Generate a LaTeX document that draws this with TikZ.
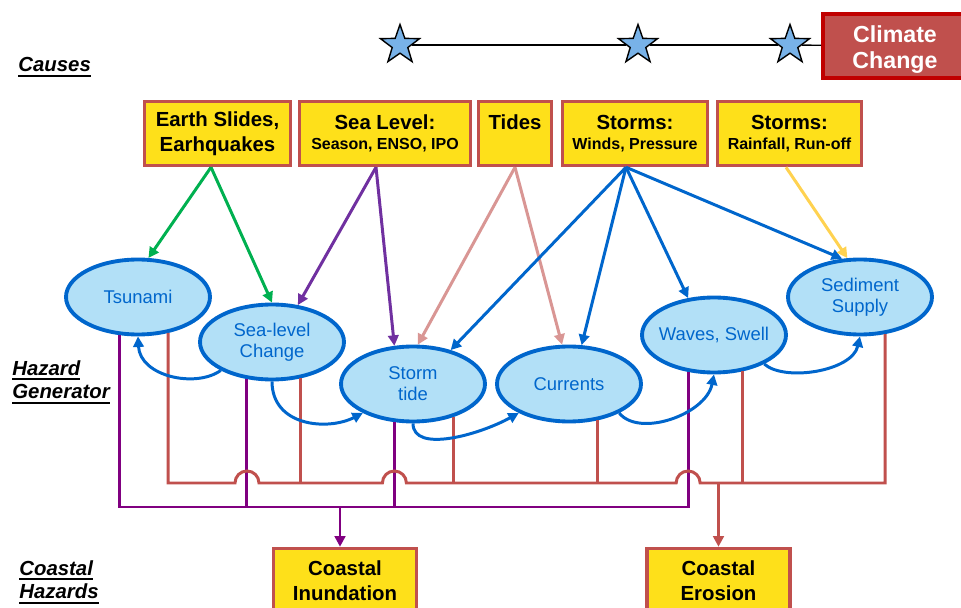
\documentclass[tikz,border=0pt]{standalone}
\usepackage{fontspec}
\setmainfont{Liberation Sans}
\usetikzlibrary{arrows.meta,shapes.geometric}

\definecolor{boxfill}{RGB}{254,224,26}
\definecolor{boxline}{RGB}{192,80,77}
\definecolor{hazfill}{RGB}{178,224,247}
\definecolor{hazline}{RGB}{0,102,204}
\definecolor{ccfill}{RGB}{192,80,77}
\definecolor{ccline}{RGB}{192,0,0}
\definecolor{starfill}{RGB}{120,178,232}
\definecolor{quakegreen}{RGB}{0,176,80}
\definecolor{levelpurple}{RGB}{112,48,160}
\definecolor{tidepink}{RGB}{217,150,148}
\definecolor{rungold}{RGB}{255,210,80}
\definecolor{inundpurple}{RGB}{128,0,128}
\definecolor{erored}{RGB}{192,80,77}

\newcommand{\subline}[1]{{\fontsize{9.1}{11}\selectfont #1}}
\newcommand{\ulabel}[1]{\setbox0\hbox{#1}\rlap{\rule[-3pt]{\wd0}{1.1pt}}\box0}

\begin{document}
\begin{tikzpicture}[x=0.02cm, y=-0.02cm, >={Triangle[length=6pt,width=6pt]},
    cause/.style={draw=boxline, fill=boxfill, line width=2pt, inner sep=0pt,
        minimum height=1.28cm, align=center, font=\bfseries\fontsize{11.6}{14}\selectfont},
    hazard/.style={ellipse, draw=hazline, fill=hazfill, line width=2.2pt, inner sep=0pt,
        minimum width=2.88cm, minimum height=1.5cm},
    haztext/.style={text=hazline, align=center, font=\fontsize{10.5}{12}\selectfont},
    cctext/.style={text=white, align=center, yshift=-2pt, font=\bfseries\fontsize{13.2}{15.3}\selectfont},
    sidelabel/.style={anchor=north west, inner sep=0pt, align=left,
        font=\bfseries\itshape\fontsize{11.6}{13.5}\selectfont},
    starmark/.style={star, star points=5, star point ratio=2.5, draw=black, fill=starfill,
        line width=0.8pt, minimum size=0.82cm, inner sep=0pt},
    link/.style={line width=1.7pt, ->},
    wire/.style={line width=1.7pt}]

    \useasboundingbox (0,0) rectangle (961,608);
    \clip (0,0) rectangle (961,608);

    % === 左侧分类标注 ===
    \node[sidelabel] (lcause) at (18,57) {\ulabel{Causes}};
    \node[sidelabel] (lgen) at (12,360) {\ulabel{Hazard}\\\ulabel{Generator}};
    \node[sidelabel] (lcoast) at (19,560) {\ulabel{Coastal}\\\ulabel{Hazards}};

    % === 气候变化时间线 ===
    \node[draw=ccline, fill=ccfill, line width=2.2pt, minimum width=2.88cm, minimum height=1.28cm,
        label={[cctext]center:{Climate\\Change}}] (clim) at (895,46) {};
    \node[starmark] (st1) at (400,45) {};
    \node[starmark] (st2) at (638,45) {};
    \node[starmark] (st3) at (790,45) {};
    \draw[line width=0.8pt] (st1) -- (st2);
    \draw[line width=0.8pt] (st2) -- (st3);
    \draw[line width=0.8pt] (st3) -- (clim);

    % === 原因框 ===
    \node[cause, minimum width=2.92cm] (earth) at (217.5,133.5) {Earth Slides,\\Earhquakes};
    \node[cause, minimum width=3.42cm] (sealev) at (385,133.5) {Sea Level:\\[-2.5pt]\subline{Season, ENSO, IPO}};
    \node[cause, minimum width=1.46cm] (tides) at (515,133.5) {Tides\\[-2.5pt]\subline{\phantom{Wp}}};
    \node[cause, minimum width=2.9cm] (stwind) at (635,133.5) {Storms:\\[-2.5pt]\subline{Winds, Pressure}};
    \node[cause, minimum width=2.88cm] (strain) at (789.5,133.5) {Storms:\\[-2.5pt]\subline{Rainfall, Run-off}};

    % === 灾害生成椭圆 ===
    \node[hazard, label={[haztext]center:Tsunami}] (tsu) at (138,297) {};
    \node[hazard, label={[haztext]center:{Sea-level\\Change}}] (slc) at (272,342) {};
    \node[hazard, label={[haztext]center:{Storm\\tide}}] (stt) at (413,384) {};
    \node[hazard, label={[haztext]center:Currents}] (cur) at (569,384) {};
    \node[hazard, label={[haztext]center:{Waves, Swell}}] (wss) at (714,335) {};
    \node[hazard, label={[haztext]center:{Sediment\\Supply}}] (sed) at (860,297) {};

    % === 海岸灾害框 ===
    \node[cause, minimum width=2.86cm] (inund) at (345,580.5) {Coastal\\Inundation};
    \node[cause, minimum width=2.86cm] (eros) at (718.5,580.5) {Coastal\\Erosion};

    % === 原因到灾害的箭头 ===
    \draw[link, quakegreen] ([xshift=-0.13cm]earth.south) -- (tsu.75);
    \draw[link, quakegreen] ([xshift=-0.13cm]earth.south) -- (slc.north);
    \draw[link, levelpurple] ([xshift=-0.18cm]sealev.south) -- (slc.55);
    \draw[link, levelpurple] ([xshift=-0.18cm]sealev.south) -- (stt.116);
    \draw[link, tidepink] (tides.south) -- (stt.83);
    \draw[link, tidepink] (tides.south) -- (cur.100);
    \draw[link, hazline] ([xshift=-0.18cm]stwind.south) -- (stt.42);
    \draw[link, hazline] ([xshift=-0.18cm]stwind.south) -- (cur.72);
    \draw[link, hazline] ([xshift=-0.18cm]stwind.south) -- (wss.125);
    \draw[link, hazline] ([xshift=-0.18cm]stwind.south) -- (sed.115);
    \draw[link, rungold] ([xshift=-0.07cm]strain.south) -- (sed.108);

    % === 汇总线 ===
    \coordinate (inb) at (0,507);
    \coordinate (erb) at (0,483);
    \coordinate (h1) at (slc.236 |- erb);
    \coordinate (h2) at (stt.244 |- erb);
    \coordinate (h3) at (wss.235 |- erb);
    \coordinate (inl) at ([xshift=-0.1cm]inund.north);

    \draw[wire, inundpurple] (tsu.244) |- (wss.235 |- inb) -- (wss.235);
    \draw[wire, inundpurple] (slc.236) -- (slc.236 |- inb);
    \draw[wire, inundpurple] (stt.244) -- (stt.244 |- inb);
    \draw[link, inundpurple] (inl |- inb) -- (inl);

    \draw[wire, erored] (tsu.310) |- ([xshift=-0.24cm]h1) arc[start angle=180, end angle=0, radius=0.24cm]
        -- ([xshift=-0.24cm]h2) arc[start angle=180, end angle=0, radius=0.24cm]
        -- ([xshift=-0.24cm]h3) arc[start angle=180, end angle=0, radius=0.24cm]
        -| (sed.304);
    \draw[wire, erored] (slc.308) -- (slc.308 |- erb);
    \draw[wire, erored] (stt.321) -- (stt.321 |- erb);
    \draw[wire, erored] (cur.308) -- (cur.308 |- erb);
    \draw[wire, erored] (wss.308) -- (wss.308 |- erb);
    \draw[link, erored] (eros.north |- erb) -- (eros.north);

    % === 灾害之间的弯箭头 ===
    \draw[link, hazline] (slc.209) .. controls +(-25,18) and +(2,40) .. (tsu.south);
    \draw[link, hazline] (slc.south) .. controls +(0,45) and +(-35,18) .. (stt.210);
    \draw[link, hazline] (stt.south) .. controls +(0,30) and +(-40,22) .. (cur.210);
    \draw[link, hazline] (cur.330) .. controls +(20,25) and +(-8,40) .. (wss.south);
    \draw[link, hazline] (wss.330) .. controls +(20,18) and +(-8,35) .. (sed.south);

\end{tikzpicture}
\end{document}
